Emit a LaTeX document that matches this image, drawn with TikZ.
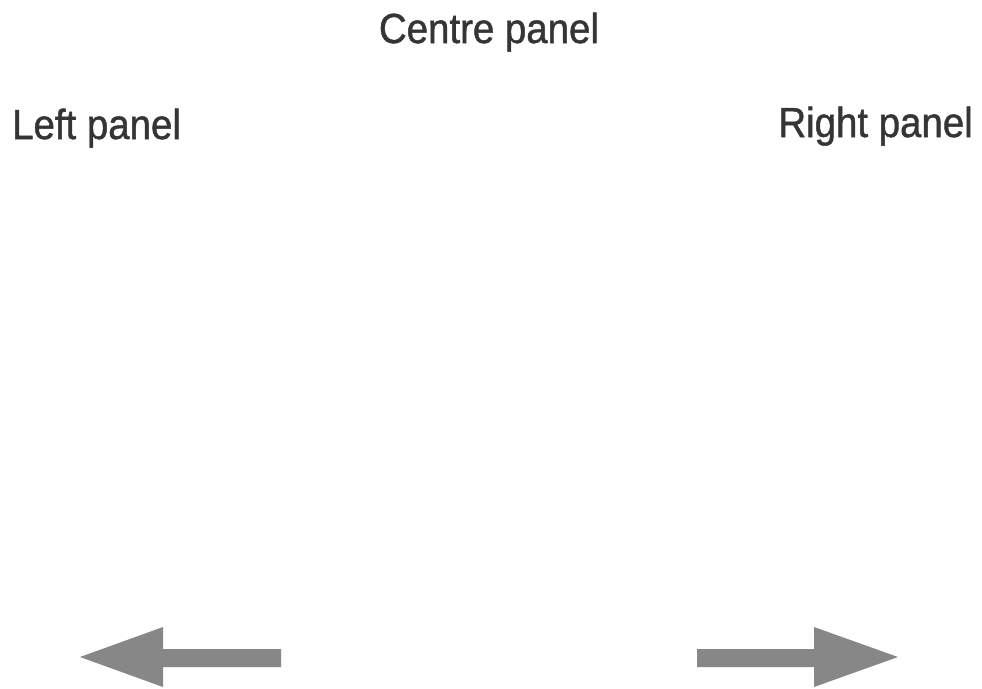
\documentclass[tikz,border=0pt]{standalone}
\usepackage{fontspec}
\setmainfont{Liberation Sans}
\newfontfamily\lblfont[FakeBold=1.2]{Liberation Sans}
\definecolor{txt}{HTML}{353535}
\definecolor{arr}{HTML}{878787}
\begin{document}
\begin{tikzpicture}[x=1pt,y=-1pt,
  lbl/.style={inner sep=0pt,text=txt,font=\lblfont\fontsize{42}{50}\selectfont,xscale=0.915},
  arrowfill/.style={fill=arr,draw=none}]
\useasboundingbox (0,0) rectangle (982,688);
\node[lbl,anchor=base] (centre) at (489,43) {Centre panel};
\node[lbl,anchor=base west] (left) at (12,139) {Left panel};
\node[lbl,anchor=base east] (right) at (973,137) {Right panel};
% left arrow
\fill[arrowfill] (80,657) -- (163,627) -- (163,649) -- (281,649) -- (281,667) -- (163,667) -- (163,687) -- cycle;
% right arrow
\fill[arrowfill] (898,657) -- (814,627) -- (814,649) -- (697,649) -- (697,667) -- (814,667) -- (814,687) -- cycle;
\end{tikzpicture}
\end{document}
